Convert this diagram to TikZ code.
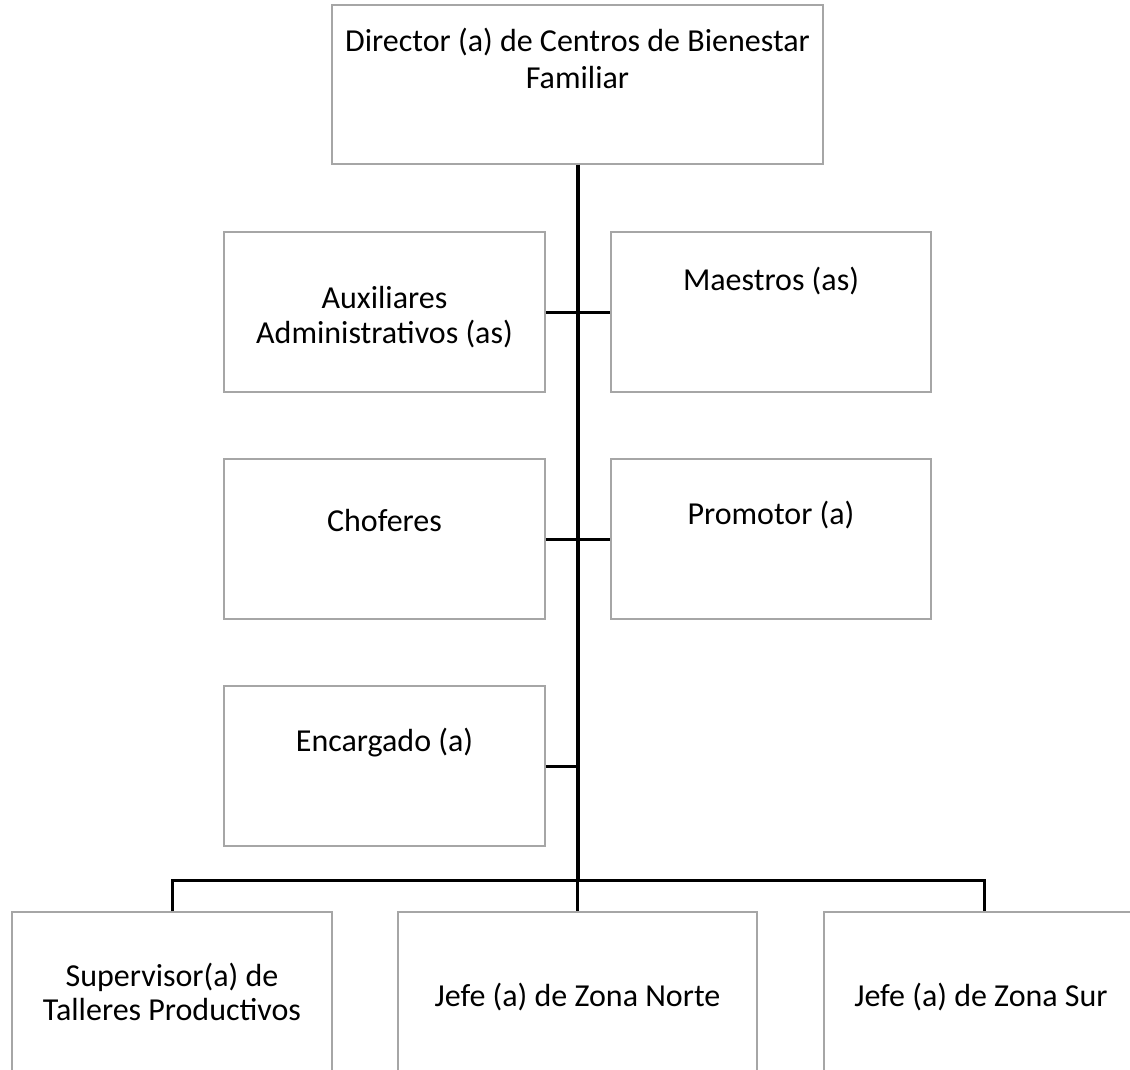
\documentclass[tikz,border=0pt]{standalone}
\usepackage{fontspec}
\setmainfont{Carlito}
\begin{document}
\begin{tikzpicture}[x=1pt,y=-1pt,
  box/.style={draw=boxgray,line width=1.5pt,fill=white,rectangle,inner sep=0pt,minimum width=#1},
  box/.default=320pt,
  lbl/.style={anchor=base,inner sep=0pt,font=\fontsize{32}{38}\selectfont},
  conn/.style={draw=black,line width=3pt},
  trunk/.style={draw=black,line width=4pt}]
\definecolor{boxgray}{HTML}{A6A6A6}
\useasboundingbox (0,0) rectangle (1130,1070);
\clip (0,0) rectangle (1130,1070);
% boxes
\node[box=491pt,minimum height=159pt] (dir) at (577.5,84.5) {};
\node[box=321pt,minimum height=160pt] (aux) at (384.5,312) {};
\node[box=320pt,minimum height=160pt] (mae) at (771,312) {};
\node[box=321pt,minimum height=160pt] (cho) at (384.5,539) {};
\node[box=320pt,minimum height=160pt] (pro) at (771,539) {};
\node[box=321pt,minimum height=160pt] (enc) at (384.5,766) {};
\node[box=320pt,minimum height=200pt] (sup) at (172,1012) {};
\node[box=359pt,minimum height=200pt] (nor) at (577.5,1012) {};
\node[box=320pt,minimum height=200pt] (sur) at (984,1012) {};
\coordinate (bus) at (577.5,880);
% connectors
\draw[trunk] (dir.south) -- (bus);
\draw[conn] (bus) -- (nor.north);
\draw[conn] (aux.east) -- (mae.west);
\draw[conn] (cho.east) -- (pro.west);
\draw[conn] (enc.east) -- (enc.east -| dir.south);
\draw[conn] (sup.north) |- (bus) -| (sur.north);
% labels
\node[lbl] (dirA) at (577.5,52) {Director (a) de Centros de Bienestar};
\node[lbl] (dirB) at (577.5,89) {Familiar};
\node[lbl] (auxA) at (384.5,308) {Auxiliares};
\node[lbl] (auxB) at (384.5,343) {Administrativos (as)};
\node[lbl] (maeA) at (771,290) {Maestros (as)};
\node[lbl] (choA) at (384.5,531) {Choferes};
\node[lbl] (proA) at (771,524) {Promotor (a)};
\node[lbl] (encA) at (384.5,751) {Encargado (a)};
\node[lbl] (supA) at (172,986) {Supervisor(a) de};
\node[lbl] (supB) at (172,1020) {Talleres Productivos};
\node[lbl] (norA) at (577.5,1006) {Jefe (a) de Zona Norte};
\node[lbl] (surA) at (981,1006) {Jefe (a) de Zona Sur};
\end{tikzpicture}
\end{document}
